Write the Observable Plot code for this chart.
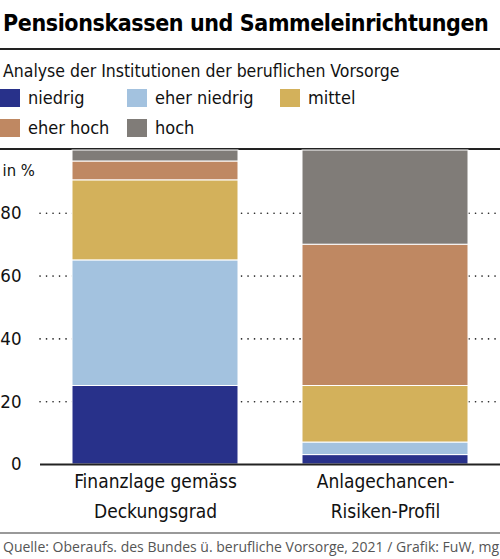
<!DOCTYPE html>
<html>
<head>
<meta charset="utf-8">
<script src="https://cdn.jsdelivr.net/npm/d3@7"></script>
<script src="https://cdn.jsdelivr.net/npm/@observablehq/plot@0.6"></script>
<style>
  body { margin: 0; background: #fff; width: 500px; overflow: hidden; }
  .narrow { font-family: "DejaVu Sans Condensed", "DejaVu Sans", sans-serif; font-stretch: condensed; }
  h1 { margin: 0; padding: 9px 0 0 3px; font-size: 23px; line-height: 28px; font-weight: bold; height: 48px; box-sizing: border-box; white-space: nowrap; letter-spacing: -0.4px; }
  .rule { border-top: 2px solid #222; }
  .sub { font-size: 17.5px; line-height: 22px; padding: 10px 0 0 3px; height: 34px; box-sizing: border-box; color: #111; white-space: nowrap; }
  .legend { display: grid; grid-template-columns: 127px 153px auto; grid-auto-rows: 18px; align-content: start; row-gap: 12px; font-size: 18px; line-height: 18px; color: #111; height: 64px; padding-top: 5px; box-sizing: border-box; }
  .legend div { display: flex; align-items: center; height: 18px; }
  .legend span.sw { display: inline-block; width: 20px; height: 18px; margin-right: 8px; }
  #chart { height: 382px; }
  .foot { border-top: 2px solid #999; font-family: "Open Sans", sans-serif; font-size: 14px; color: #555; padding: 3px 0 0 3px; white-space: nowrap; }
</style>
</head>
<body>
<h1 class="narrow">Pensionskassen und Sammeleinrichtungen</h1>
<div class="rule"></div>
<div class="sub narrow">Analyse der Institutionen der beruflichen Vorsorge</div>
<div class="legend narrow" id="legend"></div>
<div class="rule"></div>
<div id="chart"></div>
<div class="foot">Quelle: Oberaufs. des Bundes ü. berufliche Vorsorge, 2021 / Grafik: FuW, mg</div>
<script>
const categories = ["Finanzlage gemäss\nDeckungsgrad", "Anlagechancen-\nRisiken-Profil"]
const levels = ["niedrig", "eher niedrig", "mittel", "eher hoch", "hoch"]
const colors = ["#28318a", "#a3c2df", "#d3b15b", "#bf8862", "#807c78"]
const finanzlage = [25, 40, 25.5, 6, 3.5]
const anlage = [3, 4, 18, 45, 30]
const yTicks = [0, 20, 40, 60, 80]

const data = []
levels.forEach((l, i) => {
  data.push({cat: categories[0], level: l, value: finanzlage[i]})
  data.push({cat: categories[1], level: l, value: anlage[i]})
})

d3.select("#legend").selectAll("div").data(levels).join("div")
  .html((d, i) => `<span class="sw" style="background:${colors[i]}"></span>${d}`)

let chart = Plot.plot({
  width: 500,
  height: 382,
  marginTop: 0,
  marginLeft: 40,
  marginRight: 0,
  marginBottom: 68,
  style: {fontFamily: "'DejaVu Sans Condensed', 'DejaVu Sans', sans-serif", fontStretch: "condensed", fontSize: "17px", color: "#111", overflow: "visible"},
  x: {domain: categories, paddingInner: 0.28, paddingOuter: 0.14, label: null},
  y: {domain: [0, 100], label: null},
  color: {domain: levels, range: colors},
  marks: [
    Plot.ruleY(yTicks.slice(1), {stroke: "#222", strokeWidth: 1.6, strokeDasharray: "0.1,6.4", strokeLinecap: "round"}),
    Plot.barY(data, Plot.stackY({x: "cat", y: "value", fill: "level", order: levels, stroke: "white", strokeWidth: 1})),
    Plot.ruleY([0], {stroke: "#222", strokeWidth: 2}),
    Plot.axisY(yTicks, {tickSize: 0, tickPadding: 19, fontSize: 18.5}),
    Plot.axisX({tickSize: 0, tickPadding: 3, fontSize: 19, lineHeight: 1.55}),
    Plot.text(["in %"], {frameAnchor: "top-left", dx: -38, dy: 14, textAnchor: "start", fontSize: 16.5})
  ]
})

d3.select("#chart").append(() => chart)
</script>
</body>
</html>
